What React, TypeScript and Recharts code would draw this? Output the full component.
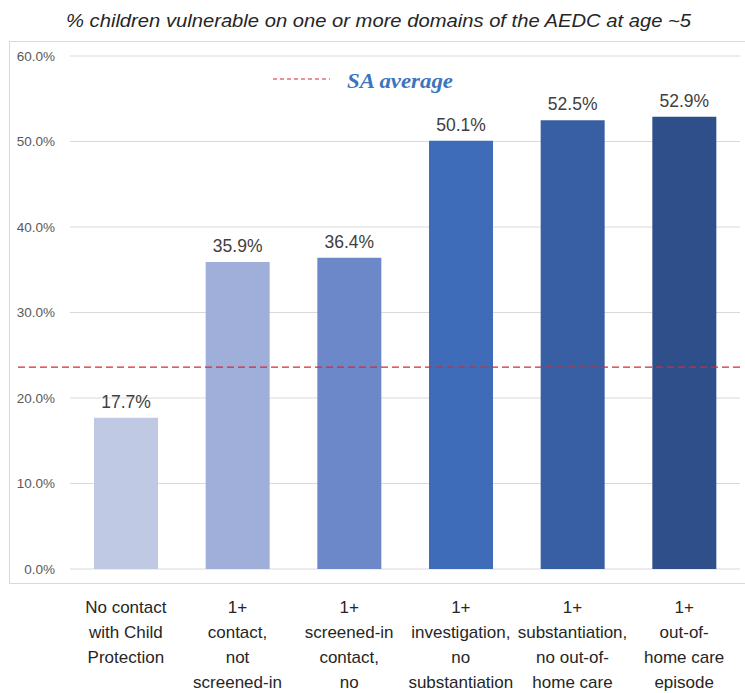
import React from 'react';
import { BarChart, Bar, XAxis, YAxis, CartesianGrid, ReferenceLine, LabelList, Cell } from 'recharts';

// Child protection contact groups (label lines for the category axis)
const categoryLines: string[][] = [
  ['No contact', 'with Child', 'Protection'],
  ['1+', 'contact,', 'not', 'screened-in'],
  ['1+', 'screened-in', 'contact,', 'no'],
  ['1+', 'investigation,', 'no', 'substantiation'],
  ['1+', 'substantiation,', 'no out-of-', 'home care'],
  ['1+', 'out-of-', 'home care', 'episode'],
];

// % of children vulnerable on one or more AEDC domains
const vulnerablePct = [17.7, 35.9, 36.4, 50.1, 52.5, 52.9];

const barColors = ['#C0C9E4', '#9FAFD9', '#6C88C9', '#3E6CB9', '#385EA3', '#2F4F8A'];

const saAverage = 23.6;

const yTicks = [0, 10, 20, 30, 40, 50, 60];

const chartTitle = '% children vulnerable on one or more domains of the AEDC at age ~5';
const legendLabel = 'SA average';

const data = categoryLines.map((lines, i) => ({
  category: lines.join(' '),
  value: vulnerablePct[i],
}));

const FONT = '"Liberation Sans", Arial, sans-serif';

const CategoryTick = (props: any) => {
  const { x, y, index } = props;
  const lines = categoryLines[index] || [];
  return (
    <text x={x} y={y + 44} textAnchor="middle" fill="#262626" fontSize={17} fontFamily={FONT}>
      {lines.map((l, i) => (
        <tspan key={i} x={x} dy={i === 0 ? 0 : 25}>
          {l}
        </tspan>
      ))}
    </text>
  );
};

const AverageLine = (props: any) => {
  const { x1, x2, y1, y2 } = props;
  return (
    <line
      x1={x1 - 52}
      x2={x2}
      y1={y1}
      y2={y2}
      stroke="#D62A30"
      strokeWidth={1.3}
      strokeDasharray="7 4"
    />
  );
};

export default function App() {
  return (
    <div style={{ position: 'absolute', left: 0, top: 0, width: 745, height: 693, background: '#fff' }}>
      <BarChart
        width={745}
        height={693}
        data={data}
        margin={{ top: 56, right: 5, bottom: 0, left: 10 }}
        barSize={64}
      >
        <CartesianGrid horizontal vertical={false} stroke="#D9D9D9" strokeWidth={1} />
        <XAxis
          dataKey="category"
          height={124}
          axisLine={false}
          tickLine={false}
          tickSize={0}
          tickMargin={0}
          interval={0}
          tick={<CategoryTick />}
        />
        <YAxis
          width={60}
          domain={[0, 60]}
          ticks={yTicks}
          axisLine={false}
          tickLine={false}
          tickSize={0}
          tickMargin={15}
          tickFormatter={(v: number) => `${v.toFixed(1)}%`}
          tick={{ fill: '#595959', fontSize: 13.5, fontFamily: FONT }}
        />
        <Bar dataKey="value" isAnimationActive={false}>
          {data.map((d, i) => (
            <Cell key={d.category} fill={barColors[i]} />
          ))}
          <LabelList
            dataKey="value"
            position="top"
            offset={10}
            formatter={(v: any) => `${Number(v).toFixed(1)}%`}
            fill="#404040"
            fontSize={17.5}
            fontFamily={FONT}
          />
        </Bar>
        <ReferenceLine y={saAverage} ifOverflow="visible" shape={<AverageLine />} />
      </BarChart>
      <svg
        width={745}
        height={693}
        style={{ position: 'absolute', left: 0, top: 0, pointerEvents: 'none' }}
      >
        <rect x={9.5} y={41.5} width={740} height={542} fill="none" stroke="#D9D9D9" />
        <text
          x={378.5}
          y={27}
          textAnchor="middle"
          fontFamily={FONT}
          fontStyle="italic"
          fontSize={19}
          fill="#262626"
          textLength={625}
          lengthAdjust="spacingAndGlyphs"
        >
          {chartTitle}
        </text>
        <line x1={273} x2={330} y1={79} y2={79} stroke="#E0262C" strokeWidth={1.2} strokeDasharray="4 3" />
        <text
          x={347}
          y={88}
          fontFamily='"Liberation Serif", "DejaVu Serif", serif'
          fontStyle="italic"
          fontWeight="bold"
          fontSize={22}
          fill="#3C75BE"
          textLength={106}
          lengthAdjust="spacingAndGlyphs"
        >
          {legendLabel}
        </text>
      </svg>
    </div>
  );
}
